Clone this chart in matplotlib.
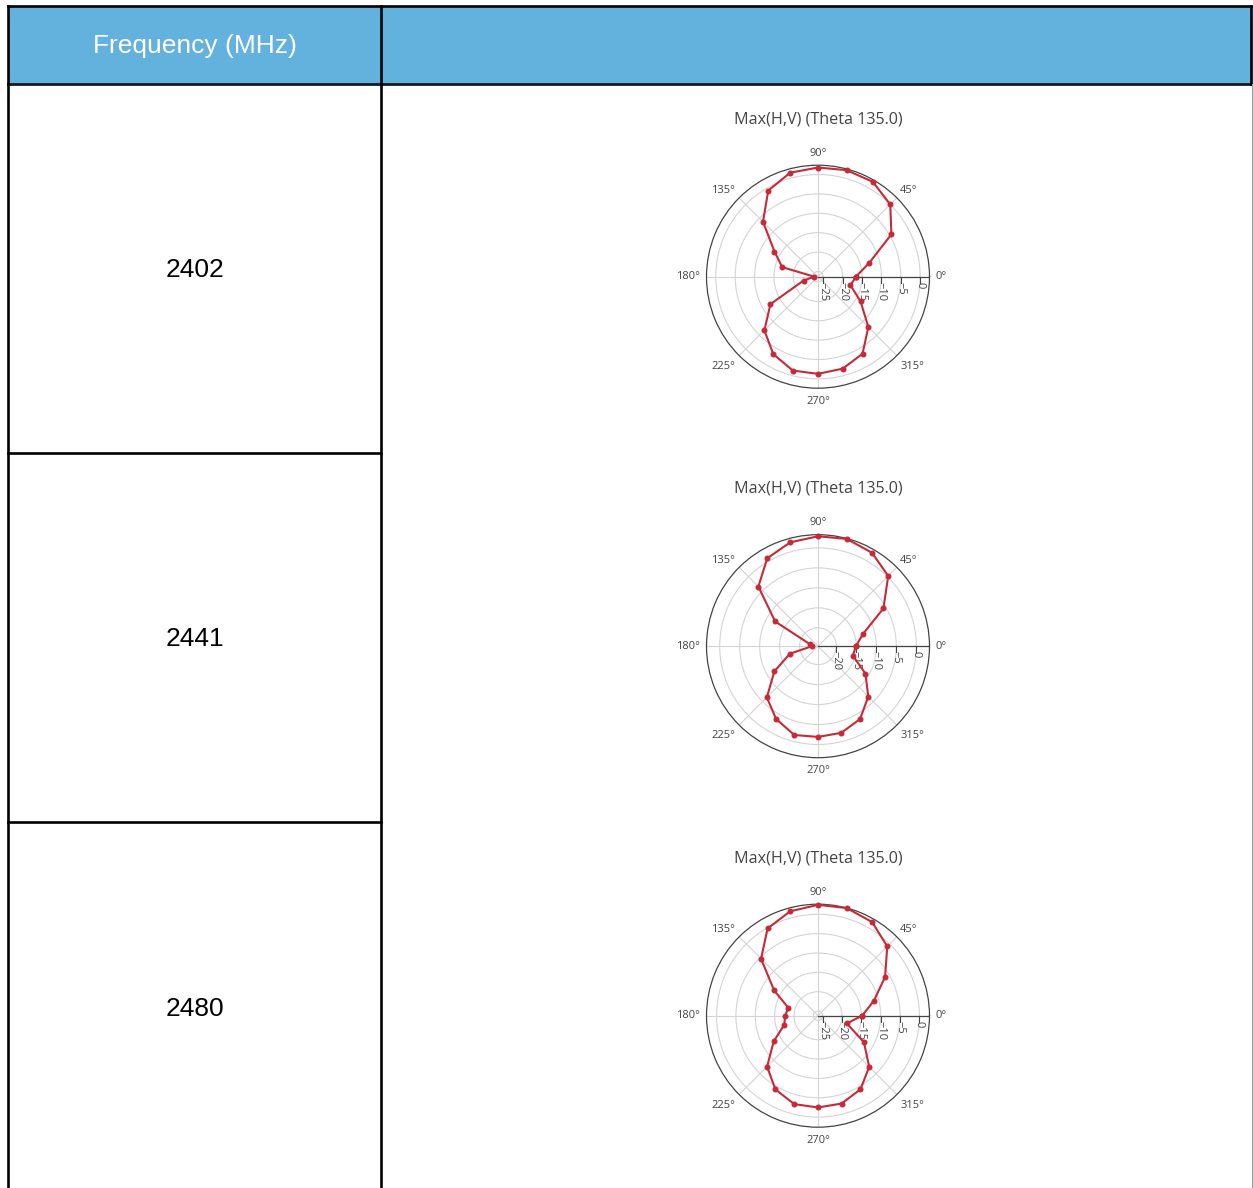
import numpy as np
import matplotlib
matplotlib.use('Agg')
import matplotlib.pyplot as plt
from matplotlib.lines import Line2D
from matplotlib.patches import Rectangle

#-- data --
freqs = ['2402', '2441', '2480']
theta_deg = [0, 15, 30, 45, 60, 75, 90, 105, 120, 135, 150, 165,
             180, 195, 210, 225, 240, 255, 270, 285, 300, 315, 330, 345]

gain_2402 = [-16.6, -12.7, -4.5, 0.0, 1.9, 2.1, 1.8, 1.4, -0.7, -6.3, -13.4, -16.8,
             -25.4, -22.5, -12.2, -6.8, -3.3, -1.3, -1.3, -1.8, -3.4, -8.0, -13.7, -17.7]
gain_2441 = [-15.1, -13.0, -5.7, 0.25, 2.4, 3.2, 2.9, 2.3, 0.8, -3.5, -12.2, -22.4,
             -23.1, -17.3, -12.0, -6.5, -3.6, -1.6, -1.9, -2.15, -3.55, -6.8, -10.9, -15.6]
gain_2480 = [-14.8, -11.25, -6.2, -0.9, 1.74, 2.57, 2.44, 1.7, -0.17, -5.4, -13.1, -18.25,
             -17.7, -17.2, -13.0, -7.6, -4.2, -2.55, -2.5, -2.7, -4.25, -7.5, -12.5, -18.5]
gains = [gain_2402, gain_2441, gain_2480]

# radial autorange of each plot
r_ranges = [(-26.37, 2.4), (-24.6, 3.3), (-26.2, 2.6)]
r_ticks = [-25, -20, -15, -10, -5, 0]
ang_ticks = [0, 45, 90, 135, 180, 225, 270, 315]
# label offsets (pixels) from the outer circle, plotly style
ang_off = {0: (11.5, 0), 45: (12, 7), 90: (0, 12), 135: (-16, 7),
           180: (-18.5, 0), 225: (-16, -10.5), 270: (0, -13), 315: (16, -10.5)}

header = 'Frequency (MHz)'
title = 'Max(H,V) (Theta 135.0)'

W, H = 1253, 1188
fig = plt.figure(figsize=(W / 100, H / 100), dpi=100)
fig.patch.set_facecolor('white')

def fx(px):
    return px / W

def fy(py):
    return 1 - py / H

def hline(x0, x1, y, lw=1.9, color='black'):
    fig.add_artist(Line2D([fx(x0), fx(x1)], [fy(y), fy(y)], lw=lw, color=color,
                          transform=fig.transFigure, solid_capstyle='projecting'))

def vline(x, y0, y1, lw=1.9, color='black'):
    fig.add_artist(Line2D([fx(x), fx(x)], [fy(y0), fy(y1)], lw=lw, color=color,
                          transform=fig.transFigure, solid_capstyle='projecting'))

#-- table --
fig.add_artist(Rectangle((fx(8), fy(84)), fx(1251) - fx(8), fy(6) - fy(84),
                         facecolor='#63B1DD', edgecolor='none', transform=fig.transFigure))
hline(8, 1251, 6)
hline(8, 1251, 84, lw=2.0, color='#1a1a1a')
vline(8, 6, 1188)
vline(381, 6, 1188)
vline(1251, 6, 84)
vline(1251.5, 84, 1188, lw=0.8, color='#9a9a9a')
hline(8, 381, 453)
hline(8, 381, 822)

fig.text(fx(195), fy(46), header, color='white', fontsize=19, family='Liberation Sans',
         ha='center', va='center')

row_h = 369.5
for i, f in enumerate(freqs):
    fig.text(fx(195), fy(270 + i * row_h), f, color='black', fontsize=19,
             family='Liberation Sans', ha='center', va='center')

#-- polar plots --
R = 111.5
cx = 818
txt_font = ['Open Sans', 'DejaVu Sans']
for i, g in enumerate(gains):
    cy = 276.7 + i * row_h
    ax = fig.add_axes([fx(cx - R), fy(cy + R), 2 * R / W, 2 * R / H], projection='polar')
    rmin, rmax = r_ranges[i]
    ax.set_ylim(rmin, rmax)

    ticks = [t for t in r_ticks if rmin <= t <= rmax]
    ax.set_yticks(ticks)
    ax.set_yticklabels([])
    ax.set_thetagrids(ang_ticks, [''] * len(ang_ticks))
    ax.tick_params(axis='x', colors='#444', direction='out', length=5, width=0.8)
    ax.grid(True, color='#d4d4d4', lw=0.8)
    ax.spines['polar'].set_color('#444')
    ax.spines['polar'].set_linewidth(0.9)

    for a in ang_ticks:
        ax.annotate('%d°' % a, xy=(np.deg2rad(a), rmax), xytext=ang_off[a],
                    textcoords='offset pixels', ha='center', va='center',
                    fontsize=8, color='#444', family=txt_font, annotation_clip=False)

    # radial axis line along 0 deg with ticks below it
    ax.plot([0, 0], [rmin, rmax], color='#444', lw=0.9, zorder=3)
    ax.plot(np.zeros(len(ticks)), ticks, ls='none', marker=3, ms=4, mew=0.8, color='#444', zorder=3)
    for t in ticks:
        ax.annotate('\u2212%d' % abs(t) if t != 0 else '0', xy=(0, t), xytext=(0, -3.5),
                    textcoords='offset points', rotation=-90, ha='center', va='top',
                    fontsize=8, color='#444', family=txt_font)

    th = np.deg2rad(theta_deg + [theta_deg[0]])
    rr = g + [g[0]]
    ax.plot(th, rr, color='#C62A38', lw=1.5, marker='o', ms=3.3, zorder=4, clip_on=False)

    fig.text(fx(cx), fy(cy - 157.5), title, color='#444', fontsize=11.6, ha='center', va='center',
             family=txt_font)

fig.savefig('out.png', dpi=100)
